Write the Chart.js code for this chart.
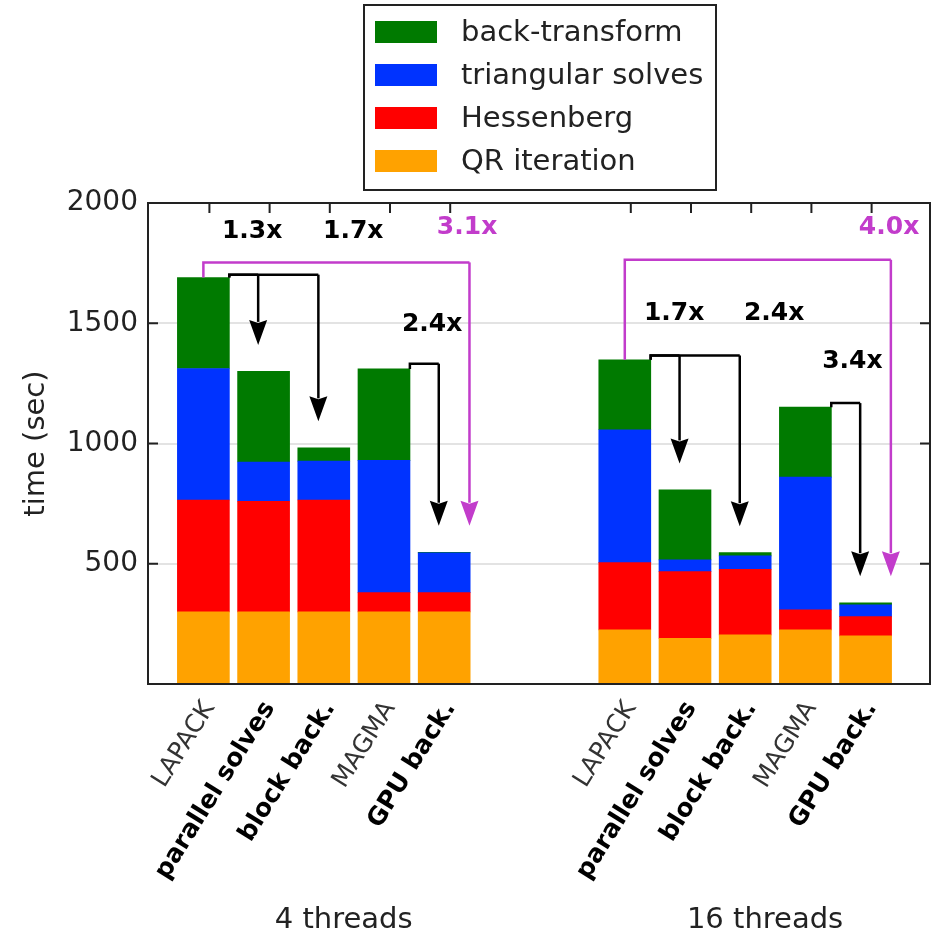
<!DOCTYPE html>
<html>
<head>
<meta charset="utf-8">
<script src="https://cdn.jsdelivr.net/npm/chart.js@4.4.1/dist/chart.umd.min.js"></script>
<style>
  html, body { margin: 0; padding: 0; background: #ffffff; }
  #wrap { width: 936px; height: 934px; }
</style>
</head>
<body>
<div id="wrap"><canvas id="chart" width="936" height="934"></canvas></div>
<script>
// Bar slots on the x axis: two groups of five, with a gap between them
const positions = [0, 1, 2, 3, 4, 7, 8, 9, 10, 11];
const categories = ['LAPACK', 'parallel solves', 'block back.', 'MAGMA', 'GPU back.',
                    'LAPACK', 'parallel solves', 'block back.', 'MAGMA', 'GPU back.'];
const boldCategory = [false, true, true, false, true, false, true, true, false, true];
const groups = ['4 threads', '16 threads'];
const groupCenters = [2.33, 9.33];

// Time per phase (sec)
const qrIteration      = [300, 300, 300, 300, 300, 225, 190, 204, 225, 200];
const hessenberg       = [465, 460, 465,  80,  80, 280, 277, 273,  83,  80];
const triangularSolves = [547, 163, 162, 550, 165, 552,  49,  56, 552,  49];
const backTransform    = [378, 377,  55, 380,   3, 291, 291,  13, 291,   9];

const yTicks = [0, 500, 1000, 1500, 2000];

// Speedup brackets: from bar index -> to bar index
const speedups = [
  { from: 0, to: 1, text: '1.3x', kind: 'step',    level: 1702, lx: 0.81,  ly: 1881 },
  { from: 0, to: 2, text: '1.7x', kind: 'step',    level: 1702, lx: 2.49,  ly: 1881 },
  { from: 3, to: 4, text: '2.4x', kind: 'step',    level: 1332, lx: 3.80,  ly: 1494 },
  { from: 0, to: 4, text: '3.1x', kind: 'overall', level: 1753, lx: 4.38,  ly: 1898 },
  { from: 5, to: 6, text: '1.7x', kind: 'step',    level: 1366, lx: 7.82,  ly: 1540 },
  { from: 5, to: 7, text: '2.4x', kind: 'step',    level: 1366, lx: 9.48,  ly: 1540 },
  { from: 8, to: 9, text: '3.4x', kind: 'step',    level: 1168, lx: 10.78, ly: 1340 },
  { from: 5, to: 9, text: '4.0x', kind: 'overall', level: 1764, lx: 11.39, ly: 1898 }
];

const FONT = '"DejaVu Sans", "Bitstream Vera Sans", sans-serif';
const COLORS = { qr: '#ffa200', hess: '#ff0000', tri: '#0033ff', back: '#007a00', overall: '#c23ccb', step: '#000000' };

const toPoints = arr => arr.map((v, i) => ({ x: positions[i], y: v }));
const totals = positions.map((_, i) => qrIteration[i] + hessenberg[i] + triangularSolves[i] + backTransform[i]);

function drawArrowDown(ctx, x, y0, y1, color) {
  const headL = 25, headW = 9;
  ctx.strokeStyle = color; ctx.fillStyle = color;
  ctx.beginPath(); ctx.moveTo(x, y0); ctx.lineTo(x, y1 - headL + 2); ctx.stroke();
  ctx.beginPath();
  ctx.moveTo(x, y1);
  ctx.lineTo(x - headW, y1 - headL);
  ctx.lineTo(x, y1 - headL + 3);
  ctx.lineTo(x + headW, y1 - headL);
  ctx.closePath(); ctx.fill();
}

const decorations = {
  id: 'decorations',
  afterDatasetsDraw(chart) {
    const { ctx, chartArea: a, scales: { x, y } } = chart;
    ctx.save();

    // speedup arrows
    ctx.lineWidth = 2.5;
    ctx.lineJoin = 'miter';
    speedups.forEach(s => {
      const color = COLORS[s.kind];
      const startX = s.kind === 'overall' ? positions[s.from] : positions[s.from] + 0.43;
      const legX = s.kind === 'overall' ? positions[s.to] + 0.42 : positions[s.to] - 0.09;
      const px0 = x.getPixelForValue(startX);
      const pxLeg = x.getPixelForValue(legX);
      const pyLevel = y.getPixelForValue(s.level);
      ctx.strokeStyle = color;
      ctx.beginPath();
      ctx.moveTo(px0, y.getPixelForValue(totals[s.from]));
      ctx.lineTo(px0, pyLevel);
      ctx.lineTo(pxLeg, pyLevel);
      ctx.stroke();
      drawArrowDown(ctx, pxLeg, pyLevel, y.getPixelForValue(totals[s.to] + 110), color);
      ctx.fillStyle = color;
      ctx.font = 'bold 25px ' + FONT;
      ctx.textAlign = 'center';
      ctx.textBaseline = 'middle';
      ctx.fillText(s.text, x.getPixelForValue(s.lx), y.getPixelForValue(s.ly));
    });

    // axes frame and inside ticks
    ctx.strokeStyle = '#222222';
    ctx.lineWidth = 2;
    ctx.strokeRect(a.left, a.top, a.right - a.left, a.bottom - a.top);
    ctx.beginPath();
    yTicks.forEach(v => {
      if (v === 0) return;
      const py = y.getPixelForValue(v);
      ctx.moveTo(a.left, py); ctx.lineTo(a.left + 10, py);
      ctx.moveTo(a.right, py); ctx.lineTo(a.right - 10, py);
    });
    positions.forEach(p => {
      const px = x.getPixelForValue(p + 0.1);
      ctx.moveTo(px, a.top); ctx.lineTo(px, a.top + 10);
    });
    ctx.stroke();

    // y title
    ctx.fillStyle = '#222222';
    ctx.font = '29px ' + FONT;
    ctx.textAlign = 'center';
    ctx.textBaseline = 'middle';
    ctx.save();
    ctx.translate(36, (a.top + a.bottom) / 2);
    ctx.rotate(-Math.PI / 2);
    ctx.fillText('time (sec)', 0, 0);
    ctx.restore();

    // group captions
    ctx.textBaseline = 'alphabetic';
    groups.forEach((g, i) => ctx.fillText(g, x.getPixelForValue(groupCenters[i]), 928));

    // legend (top series first)
    const lx = 364, ly = 5, lw = 352, lh = 185;
    ctx.fillStyle = '#ffffff';
    ctx.fillRect(lx, ly, lw, lh);
    ctx.strokeStyle = '#222222';
    ctx.lineWidth = 2;
    ctx.strokeRect(lx, ly, lw, lh);
    const items = chart.data.datasets.slice().reverse();
    ctx.textAlign = 'left';
    ctx.textBaseline = 'middle';
    ctx.font = '29px ' + FONT;
    items.forEach((ds, i) => {
      const cy = 32 + i * 43;
      ctx.fillStyle = ds.backgroundColor;
      ctx.fillRect(375, cy - 11, 62, 22);
      ctx.fillStyle = '#222222';
      ctx.fillText(ds.label, 461, cy + 1);
    });
    ctx.restore();
  }
};

const bar = (label, data, color) => ({
  label, data: toPoints(data), backgroundColor: color, borderWidth: 0,
  barThickness: 52, grouped: false
});

new Chart(document.getElementById('chart'), {
  type: 'bar',
  data: {
    datasets: [
      bar('QR iteration', qrIteration, COLORS.qr),
      bar('Hessenberg', hessenberg, COLORS.hess),
      bar('triangular solves', triangularSolves, COLORS.tri),
      bar('back-transform', backTransform, COLORS.back)
    ]
  },
  options: {
    responsive: false,
    devicePixelRatio: 1,
    animation: false,
    layout: { padding: { top: 203, right: 6, left: 0, bottom: 0 } },
    plugins: { legend: { display: false }, tooltip: { enabled: false } },
    scales: {
      x: {
        type: 'linear',
        stacked: true,
        offset: false,
        min: -0.92,
        max: 12.07,
        afterBuildTicks: scale => { scale.ticks = positions.map(p => ({ value: p + 0.1 })); },
        afterFit: scale => { scale.height = 250; },
        grid: { display: false, drawTicks: false, offset: false },
        border: { display: false },
        ticks: {
          autoSkip: false,
          minRotation: 58,
          maxRotation: 58,
          padding: 12,
          callback: (v, i) => categories[i],
          color: ctx => boldCategory[ctx.index] ? '#000000' : '#333333',
          font: ctx => ({ family: FONT, size: 25, weight: boldCategory[ctx.index] ? 'bold' : 'normal' })
        }
      },
      y: {
        stacked: true,
        min: 0,
        max: 2000,
        afterBuildTicks: scale => { scale.ticks = yTicks.map(v => ({ value: v })); },
        afterFit: scale => { scale.width = 148; },
        grid: {
          drawTicks: false,
          lineWidth: 2,
          color: ctx => (ctx.tick && (ctx.tick.value === 0 || ctx.tick.value === 2000)) ? 'rgba(0,0,0,0)' : '#e3e3e3'
        },
        border: { display: false },
        ticks: {
          padding: 10,
          color: '#222222',
          font: { family: FONT, size: 28 },
          callback: v => (v === 0 ? '' : String(v))
        }
      }
    }
  },
  plugins: [decorations]
});
</script>
</body>
</html>
